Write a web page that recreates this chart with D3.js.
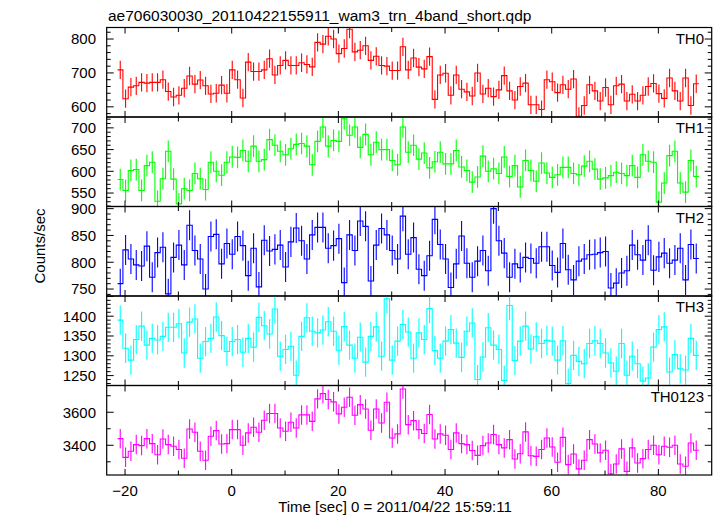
<!DOCTYPE html>
<html><head><meta charset="utf-8">
<script src="https://cdn.jsdelivr.net/npm/d3@7"></script>
<style>body{margin:0;background:#fff} svg{display:block} text{font-family:"Liberation Sans",Arial,Helvetica,sans-serif;fill:#000}</style>
</head><body><svg id="c" width="717" height="516"></svg>
<script>
const title = "ae706030030_20110422155911_wam3_trn_4band_short.qdp";
const xLabel = "Time [sec] 0 = 2011/04/22 15:59:11";
const yLabel = "Counts/sec";
const bandNames = ["TH0","TH1","TH2","TH3","TH0123"];
const bandColors = ["#ff0000","#00ff00","#0000ff","#00ffff","#ff00ff"];
const timeStart = -20.9, binWidth = 1;
const xTickLabels = [-20,0,20,40,60,80];

const th0 = [709,624,658,662,672,670,672,672,680,645,629,634,655,691,667,679,662,638,640,664,640,709,680,626,732,704,704,709,742,694,722,737,722,722,730,725,718,790,785,808,800,757,772,829,762,767,780,737,749,722,720,
 707,707,777,709,744,717,712,748,622,694,699,634,694,652,644,632,700,638,655,630,650,692,647,620,660,670,606,606,592,680,674,642,665,652,682,572,604,665,647,617,657,606,662,667,617,637,617,634,660,669,639,625,685,647,617,685,604,668];
const th1 = [581,556,602,604,556,613,621,531,583,646,582,525,560,556,595,583,558,621,600,591,621,633,632,648,623,658,623,627,673,660,646,638,652,662,664,658,615,669,702,658,671,669,721,683,702,655,685,638,667,650,650,
 625,615,702,644,660,628,642,608,622,644,617,617,648,610,602,575,587,635,600,606,595,633,588,613,564,625,602,577,619,596,586,592,609,609,595,592,612,623,605,582,585,590,598,595,590,613,586,638,623,621,529,573,636,646,573,552,625,588];
const th2 = [760,823,806,795,793,830,772,818,828,741,809,832,795,869,822,806,750,848,852,797,835,815,848,831,775,826,754,841,821,824,832,791,838,864,840,806,851,865,865,826,831,844,762,851,822,877,867,765,832,863,851,
 822,806,886,815,846,787,775,812,880,833,806,753,797,849,798,772,802,822,784,900,840,817,772,797,790,809,807,798,829,829,794,781,835,786,767,802,806,814,815,818,820,752,761,780,784,832,814,804,841,785,810,817,798,804,826,767,833,807];
const th3 = [1390,1319,1289,1341,1375,1327,1344,1340,1349,1372,1372,1381,1307,1385,1393,1294,1336,1344,1398,1351,1311,1336,1341,1309,1344,1322,1397,1376,1355,1418,1299,1316,1324,1251,1349,1396,1362,1358,1365,1386,1362,1314,1374,1327,1294,1347,1284,1349,1373,1299,1444,
 1289,1337,1379,1360,1294,1358,1341,1419,1313,1294,1337,1366,1332,1296,1362,1383,1240,1297,1371,1327,1316,1238,1427,1288,1337,1375,1317,1348,1331,1339,1337,1289,1338,1230,1301,1286,1280,1331,1338,1331,1307,1282,1261,1331,1251,1299,1280,1236,1244,1322,1366,1373,1259,1303,1267,1264,1344,1301];
const th0123 = [3440,3327,3364,3404,3398,3440,3410,3343,3438,3404,3394,3374,3321,3499,3479,3364,3309,3455,3489,3408,3410,3495,3495,3400,3475,3509,3479,3552,3592,3592,3505,3485,3539,3505,3584,3584,3545,3681,3713,3677,3663,3590,3630,3691,3582,3646,3620,3491,3620,3535,3661,
 3444,3469,3741,3525,3549,3495,3471,3586,3438,3469,3461,3374,3475,3410,3404,3368,3339,3398,3414,3465,3404,3384,3434,3317,3349,3481,3337,3333,3374,3444,3390,3297,3448,3283,3347,3257,3309,3434,3408,3354,3370,3228,3287,3378,3242,3384,3293,3319,3374,3400,3343,3394,3388,3400,3287,3273,3414,3370];
const bandErrors = [27, 25, 28, 37, 59];
const yDomains = [[570,834],[519,725],[737,904],[1225,1451],[3220,3762]];
const yTickLabels = [[600,700,800],[550,600,650,700],[750,800,850,900],[1250,1300,1350,1400],[3400,3600]];
const yMinorStep = [20,10,10,10,100];

const series = [th0, th1, th2, th3, th0123];
const svg = d3.select("#c");
const L = 106.7, R = 711.7, T0 = 27.5, PH = 89.5;
const x = d3.scaleLinear().domain([-23.44, 90]).range([L, R]);
const fmt = d3.format("");

svg.append("text").attr("x", 108).attr("y", 21).attr("font-size", 15.5).text(title);

series.forEach((vals, p) => {
  const top = T0 + p*PH, bot = top + PH;
  const y = d3.scaleLinear().domain(yDomains[p]).range([bot, top]);
  const g = svg.append("g");
  const cid = "clip"+p;
  svg.append("clipPath").attr("id", cid).append("rect").attr("x", L).attr("y", top).attr("width", R-L).attr("height", PH);
  const data = vals.map((v, i) => ({t: timeStart + i*binWidth, v}));
  const pts = [];
  data.forEach(d => { pts.push([d.t - binWidth/2, d.v]); pts.push([d.t + binWidth/2, d.v]); });
  const line = d3.line().x(d => x(d[0])).y(d => y(d[1]));
  const pg = g.append("g").attr("clip-path", `url(#${cid})`);
  pg.selectAll("line.err").data(data).join("line").attr("class","err")
    .attr("x1", d => x(d.t)).attr("x2", d => x(d.t))
    .attr("y1", d => y(d.v - bandErrors[p])).attr("y2", d => y(d.v + bandErrors[p]))
    .attr("stroke", bandColors[p]).attr("stroke-width", 1.1);
  pg.append("path").attr("d", line(pts)).attr("fill","none").attr("stroke", bandColors[p]).attr("stroke-width", 1.1);

  // frame
  g.append("rect").attr("x", L).attr("y", top).attr("width", R-L).attr("height", PH)
    .attr("fill","none").attr("stroke","#000").attr("stroke-width",1.2);
  // x ticks
  d3.range(-20, 90, 10).forEach(t => {
    const len = (t % 20 === 0) ? 6 : 4.5;
    g.append("line").attr("x1", x(t)).attr("x2", x(t)).attr("y1", top).attr("y2", top+len).attr("stroke","#000");
    g.append("line").attr("x1", x(t)).attr("x2", x(t)).attr("y1", bot).attr("y2", bot-len).attr("stroke","#000");
  });
  // y ticks
  const [d0, d1] = yDomains[p];
  const step = yMinorStep[p];
  for (let v = Math.ceil(d0/step)*step; v <= d1; v += step) {
    const major = yTickLabels[p].includes(v) || (v % (yTickLabels[p][1]-yTickLabels[p][0]) === 0);
    const len = major ? 7 : 4;
    g.append("line").attr("x1", L).attr("x2", L+len).attr("y1", y(v)).attr("y2", y(v)).attr("stroke","#000");
    g.append("line").attr("x1", R).attr("x2", R-len).attr("y1", y(v)).attr("y2", y(v)).attr("stroke","#000");
  }
  yTickLabels[p].forEach(v => {
    g.append("text").attr("x", 96).attr("y", y(v)).attr("dy","0.36em").attr("text-anchor","end")
      .attr("font-size", 15).text(fmt(v));
  });
  g.append("text").attr("x", 704).attr("y", top + 16).attr("text-anchor","end").attr("font-size", 15).text(bandNames[p]);

  if (p === series.length - 1) {
    xTickLabels.forEach(t => {
      g.append("text").attr("x", x(t)).attr("y", bot + 21).attr("text-anchor","middle").attr("font-size", 15)
        .text(d3.format("")(t).replace("-", "\u2212"));
    });
  }
});

svg.append("text").attr("x", 395).attr("y", 512).attr("text-anchor","middle").attr("font-size", 15).text(xLabel);
svg.append("text").attr("transform","translate(45,246) rotate(-90)").attr("text-anchor","middle").attr("font-size", 15).text(yLabel);
</script>
</body></html>
